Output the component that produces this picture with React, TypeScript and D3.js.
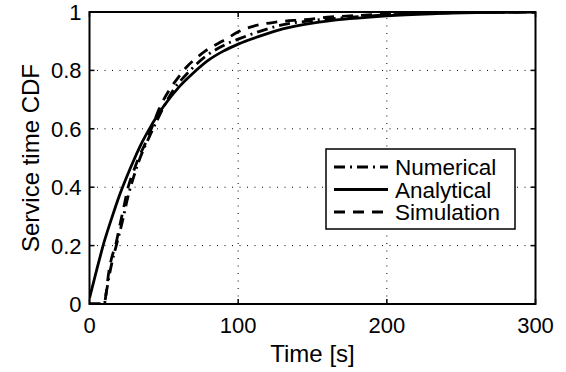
import React from "react";
import * as d3 from "d3";

const xTicks = [0, 100, 200, 300];
const yTicks = [0, 0.2, 0.4, 0.6, 0.8, 1];
const xTickLabels = ["0", "100", "200", "300"];
const yTickLabels = ["0", "0.2", "0.4", "0.6", "0.8", "1"];

const analyticalT = [0, 5, 10, 15, 20, 25, 30, 35, 40, 45, 50, 60, 70, 80, 90, 100, 115, 130, 150, 175, 200, 230, 260, 300];
const analyticalV = [0.02, 0.12, 0.215, 0.295, 0.37, 0.435, 0.495, 0.55, 0.597, 0.64, 0.678, 0.742, 0.792, 0.835, 0.866, 0.89, 0.918, 0.942, 0.962, 0.977, 0.987, 0.994, 0.998, 1.0];

const numericalT = [0, 10, 11, 12, 15, 18, 22, 26, 30, 34, 40, 46, 52, 58, 64, 70, 78, 86, 94, 100, 114, 128, 147, 170, 200, 250, 300];
const numericalV = [0, 0, 0.03, 0.06, 0.14, 0.2, 0.28, 0.37, 0.44, 0.5, 0.57, 0.635, 0.695, 0.745, 0.78, 0.812, 0.848, 0.874, 0.895, 0.907, 0.933, 0.954, 0.969, 0.98, 0.99, 0.998, 1];

const simulationT = [0, 10, 11, 13, 15, 17.5, 20, 23, 26, 30, 33, 38, 42, 47, 54, 60, 65, 72, 78, 85, 92, 100, 110, 126, 145, 160, 180, 210, 250, 300];
const simulationV = [0, 0, 0.03, 0.11, 0.16, 0.2, 0.26, 0.33, 0.4, 0.46, 0.5, 0.555, 0.605, 0.67, 0.735, 0.778, 0.81, 0.843, 0.867, 0.888, 0.908, 0.932, 0.951, 0.966, 0.974, 0.982, 0.988, 0.995, 0.999, 1];

const seriesNames = ["Numerical", "Analytical", "Simulation"];

const W = 566, H = 372;
const L = 89.5, R = 535.5, T = 12, B = 304;
const FONT = "'Liberation Sans', Arial, Helvetica, sans-serif";

export default function App() {
  const x = d3.scaleLinear().domain([0, 300]).range([L, R]);
  const y = d3.scaleLinear().domain([0, 1]).range([B, T]);
  const mk = (ts: number[], vs: number[]) =>
    d3.line<number>().x((_, i) => x(ts[i])).y((v) => y(v)).curve(d3.curveMonotoneX)(vs) || "";

  const series = [
    { name: seriesNames[0], d: mk(numericalT, numericalV), dash: "11,5,2,5" },
    { name: seriesNames[1], d: mk(analyticalT, analyticalV), dash: "none" },
    { name: seriesNames[2], d: mk(simulationT, simulationV), dash: "11,8" },
  ];

  const legX = 326, legY = 149, legW = 189, legH = 80, rowH = 22.5;

  return (
    <svg width={W} height={H} style={{ position: "absolute", left: 0, top: 0, background: "#fff" }}>
      <rect x={0} y={0} width={W} height={H} fill="#fff" />
      <defs>
        <clipPath id="plot"><rect x={L} y={T} width={R - L} height={B - T} /></clipPath>
      </defs>
      {xTicks.slice(1, -1).map((t) => (
        <line key={"gx" + t} x1={x(t)} x2={x(t)} y1={B} y2={T} stroke="#000" strokeWidth={1} strokeDasharray="1,6.5" />
      ))}
      {yTicks.slice(1, -1).map((t) => (
        <line key={"gy" + t} x1={L} x2={R} y1={y(t)} y2={y(t)} stroke="#000" strokeWidth={1} strokeDasharray="1,6.5" />
      ))}
      {xTicks.map((t) => (
        <g key={"tx" + t}>
          <line x1={x(t)} x2={x(t)} y1={B} y2={B - 5} stroke="#000" strokeWidth={1.5} />
          <line x1={x(t)} x2={x(t)} y1={T} y2={T + 5} stroke="#000" strokeWidth={1.5} />
        </g>
      ))}
      {yTicks.map((t) => (
        <g key={"ty" + t}>
          <line x1={L} x2={L + 5} y1={y(t)} y2={y(t)} stroke="#000" strokeWidth={1.5} />
          <line x1={R} x2={R - 5} y1={y(t)} y2={y(t)} stroke="#000" strokeWidth={1.5} />
        </g>
      ))}
      <g clipPath="url(#plot)">
        {series.map((s) => (
          <path key={s.name} d={s.d} fill="none" stroke="#000" strokeWidth={2.8} strokeDasharray={s.dash} />
        ))}
      </g>
      <rect x={L} y={T} width={R - L} height={B - T} fill="none" stroke="#000" strokeWidth={2} />
      {xTicks.map((t, i) => (
        <text key={"lx" + t} x={x(t)} y={333} textAnchor="middle" fontFamily={FONT} fontSize={22}>{xTickLabels[i]}</text>
      ))}
      {yTicks.map((t, i) => (
        <text key={"ly" + t} x={L - 8} y={y(t) + 8} textAnchor="end" fontFamily={FONT} fontSize={22}>{yTickLabels[i]}</text>
      ))}
      <text x={(L + R) / 2} y={362} textAnchor="middle" fontFamily={FONT} fontSize={24}>Time [s]</text>
      <text transform={`translate(39,${(T + B) / 2}) rotate(-90)`} textAnchor="middle" fontFamily={FONT} fontSize={24}>Service time CDF</text>
      <rect x={legX} y={legY} width={legW} height={legH} fill="#fff" stroke="#000" strokeWidth={1.5} />
      {series.map((s, i) => {
        const cy = legY + 18 + i * rowH;
        return (
          <g key={"lg" + s.name}>
            <line x1={legX + 8} x2={legX + 62} y1={cy} y2={cy} stroke="#000" strokeWidth={2.8} strokeDasharray={s.dash} />
            <text x={legX + 69} y={cy + 8} fontFamily={FONT} fontSize={22.5}>{s.name}</text>
          </g>
        );
      })}
    </svg>
  );
}
